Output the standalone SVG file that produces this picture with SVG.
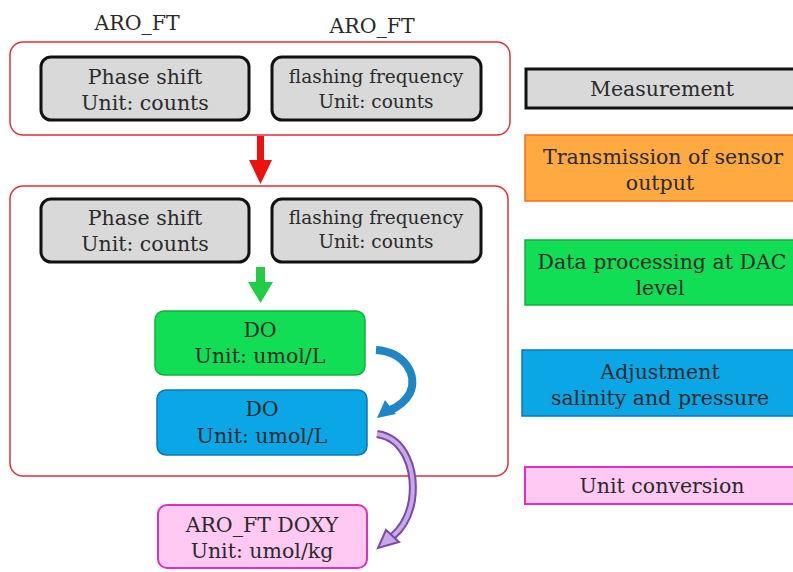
<svg xmlns="http://www.w3.org/2000/svg" width="793" height="572" viewBox="0 0 793 572">
<defs>
<style>
text{font-family:"DejaVu Serif","Liberation Serif",serif;font-size:20.5px;fill:#2a2a2a;text-anchor:middle}
.grp{fill:#fff;stroke:#e0303a;stroke-width:1.5}
.meas{fill:#d9d9d9;stroke:#111;stroke-width:3}
.green{fill:#11dd55;stroke:#10b040;stroke-width:1.5}
.blue{fill:#0aa6e6;stroke:#0a78b8;stroke-width:1.5}
.pink{fill:#ffc9f3;stroke:#e030b8;stroke-width:2}
.orange{fill:#ffaa40;stroke:#f07020;stroke-width:1.5}
.sm{font-size:18.5px}
</style>
</defs>
<rect width="793" height="572" fill="#fff"/>
<text x="137" y="30">ARO_FT</text>
<text x="372" y="33">ARO_FT</text>
<g id="group1"><rect class="grp" x="10" y="42" width="500" height="93" rx="13"/></g>
<g id="group2"><rect class="grp" x="10" y="186" width="498" height="290" rx="13"/></g>
<g id="phase1"><rect class="meas" x="41" y="57" width="208" height="63" rx="10"/><text x="145" y="84">Phase shift</text><text x="145" y="110">Unit: counts</text></g>
<g id="freq1"><rect class="meas" x="272" y="57" width="209" height="63" rx="10"/><text class="sm" x="376" y="83">flashing frequency</text><text class="sm" x="376" y="108">Unit: counts</text></g>
<g id="phase2"><rect class="meas" x="41" y="199" width="208" height="63" rx="10"/><text x="145" y="225">Phase shift</text><text x="145" y="251">Unit: counts</text></g>
<g id="freq2"><rect class="meas" x="272" y="199" width="209" height="63" rx="10"/><text class="sm" x="376" y="224">flashing frequency</text><text class="sm" x="376" y="248">Unit: counts</text></g>
<g id="do1"><rect class="green" x="155" y="311" width="210" height="64" rx="9"/><text x="260" y="337">DO</text><text x="260" y="363">Unit: umol/L</text></g>
<g id="do2"><rect class="blue" x="157" y="390" width="210" height="65" rx="9"/><text x="262" y="416">DO</text><text x="262" y="443">Unit: umol/L</text></g>
<g id="doxy"><rect class="pink" x="158" y="505" width="209" height="63" rx="9"/><text x="262" y="532">ARO_FT DOXY</text><text x="262" y="558">Unit: umol/kg</text></g>
<g id="legend">
<g id="leg-meas"><rect class="meas" x="526" y="69" width="272" height="39"/><text x="662" y="96">Measurement</text></g>
<g id="leg-trans"><rect class="orange" x="525" y="135" width="272" height="66"/><text x="663" y="164">Transmission of sensor</text><text x="660" y="190">output</text></g>
<g id="leg-dac"><rect class="green" x="525" y="240" width="272" height="65"/><text x="662" y="269">Data processing at DAC</text><text x="660" y="295">level</text></g>
<g id="leg-adj"><rect class="blue" x="522" y="350" width="275" height="66"/><text x="660" y="379">Adjustment</text><text x="660" y="405">salinity and pressure</text></g>
<g id="leg-unit"><rect class="pink" x="525" y="467" width="272" height="37"/><text x="662" y="493">Unit conversion</text></g>
</g>
<g id="connectors">
<rect x="257" y="136" width="7" height="26" fill="#ee1111"/>
<path d="M249,160 L272,160 L260.5,184 Z" fill="#ee1111"/>
<rect x="256" y="267" width="9" height="17" fill="#22cc44"/>
<path d="M248,282 L273,282 L260.5,303 Z" fill="#22cc44"/>
<path d="M376,350 C405,352 418,375 410,393 C405,402 398,407 390,410" fill="none" stroke="#1f86c6" stroke-width="8"/>
<path d="M377,418 L385,400 L396,414 Z" fill="#1f86c6"/>
<path d="M377,434 C405,438 416,470 412,500 C409,518 400,530 393,536" fill="none" stroke="#7a4aa8" stroke-width="8"/>
<path d="M377,434 C405,438 416,470 412,500 C409,518 400,530 393,536" fill="none" stroke="#c9a8e8" stroke-width="4"/>
<path d="M378,548 L386,530 L399,542 Z" fill="#c9a8e8" stroke="#7a4aa8" stroke-width="2"/>
</g>
</svg>
